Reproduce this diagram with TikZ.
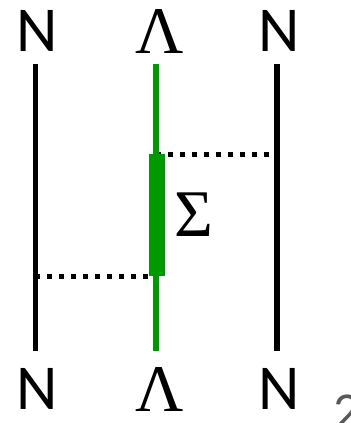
\documentclass[tikz,border=0pt]{standalone}
\usepackage{fontspec}
\newfontfamily\sanslabel{Carlito}
\newfontfamily\seriflabel{Liberation Serif}
\usetikzlibrary{positioning}
\definecolor{lambdagreen}{RGB}{0,153,0}
\definecolor{pagegray}{RGB}{89,89,89}

\begin{document}
\begin{tikzpicture}[
    x=0.75pt, y=-0.75pt,
    nlabel/.style={inner sep=0pt, font=\sanslabel\fontsize{48}{48}\selectfont},
    glabel/.style={inner sep=0pt, font=\seriflabel\fontsize{50}{50}\selectfont},
    nucleon/.style={line width=4.1pt, black},
    hyperon/.style={line width=4.1pt, lambdagreen},
    sigmabar/.style={line width=12pt, lambdagreen},
    exchange/.style={line width=3.75pt, dash pattern=on 3.75pt off 5.25pt}
]
\useasboundingbox (0,0) rectangle (350,423);

% particle labels
\node[nlabel] (ntopl) at (37.5,30.5) {N};
\node[glabel] (ltop) at (159.5,31.5) {Λ};
\node[nlabel] (ntopr) at (279,30.5) {N};
\node[nlabel] (nbotl) at (37.5,388.5) {N};
\node[glabel] (lbot) at (160,389.5) {Λ};
\node[nlabel] (nbotr) at (279,388.5) {N};

% line ends
\coordinate (l1) at (35.5,64);
\coordinate (l2) at (35.5,351);
\coordinate (m1) at (156,64);
\coordinate (m2) at (156,351);
\coordinate (r1) at (277,64);
\coordinate (r2) at (277,351);
\coordinate (s1) at (156.5,154);
\coordinate (s2) at (156.5,276);

% meson exchange
\coordinate (e1) at (156,155);
\coordinate (e2) at (277,155);
\coordinate (e3) at (35,276.5);
\coordinate (e4) at (156,276.5);
\draw[exchange] (e1) -- (e2);
\draw[exchange] (e3) -- (e4);

\draw[nucleon] (l1) -- (l2);
\draw[hyperon] (m1) -- (m2);
\draw[nucleon] (r1) -- (r2);
\draw[sigmabar] (s1) -- (s2);

\node[glabel] (sigma) at (194,215) {Σ};

\node[anchor=north west, inner sep=0pt, text=pagegray,
      font=\sanslabel\fontsize{40}{40}\selectfont] (page) at (333,395) {2};
\end{tikzpicture}
\end{document}
